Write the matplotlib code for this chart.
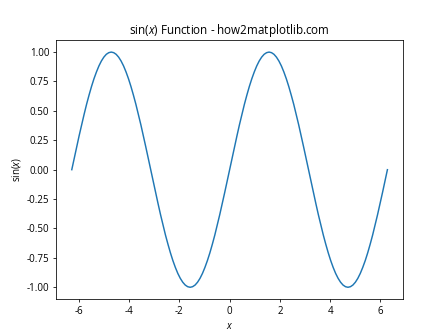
import matplotlib
matplotlib.use("Agg")
import matplotlib.pyplot as plt

plt.rcParams['font.family'] = ['Open Sans', 'DejaVu Sans']
plt.rcParams['axes.unicode_minus'] = False
plt.rcParams['mathtext.fontset'] = 'custom'
plt.rcParams['mathtext.rm'] = 'Open Sans'
plt.rcParams['mathtext.it'] = 'Open Sans:italic'

x_values = [
    -6.283, -6.185, -6.087, -5.989, -5.890, -5.792, -5.694, -5.596,
    -5.498, -5.400, -5.301, -5.203, -5.105, -5.007, -4.909, -4.811,
    -4.712, -4.614, -4.516, -4.418, -4.320, -4.221, -4.123, -4.025,
    -3.927, -3.829, -3.731, -3.632, -3.534, -3.436, -3.338, -3.240,
    -3.142, -3.043, -2.945, -2.847, -2.749, -2.651, -2.553, -2.454,
    -2.356, -2.258, -2.160, -2.062, -1.963, -1.865, -1.767, -1.669,
    -1.571, -1.473, -1.374, -1.276, -1.178, -1.080, -0.982, -0.884,
    -0.785, -0.687, -0.589, -0.491, -0.393, -0.295, -0.196, -0.098,
    0.000, 0.098, 0.196, 0.295, 0.393, 0.491, 0.589, 0.687,
    0.785, 0.884, 0.982, 1.080, 1.178, 1.276, 1.374, 1.473,
    1.571, 1.669, 1.767, 1.865, 1.963, 2.062, 2.160, 2.258,
    2.356, 2.454, 2.553, 2.651, 2.749, 2.847, 2.945, 3.043,
    3.142, 3.240, 3.338, 3.436, 3.534, 3.632, 3.731, 3.829,
    3.927, 4.025, 4.123, 4.221, 4.320, 4.418, 4.516, 4.614,
    4.712, 4.811, 4.909, 5.007, 5.105, 5.203, 5.301, 5.400,
    5.498, 5.596, 5.694, 5.792, 5.890, 5.989, 6.087, 6.185, 6.283,
]
y_values = [
    0.000, 0.098, 0.195, 0.290, 0.383, 0.471, 0.556, 0.634,
    0.707, 0.773, 0.831, 0.882, 0.924, 0.957, 0.981, 0.995,
    1.000, 0.995, 0.981, 0.957, 0.924, 0.882, 0.831, 0.773,
    0.707, 0.634, 0.556, 0.471, 0.383, 0.290, 0.195, 0.098,
    0.000, -0.098, -0.195, -0.290, -0.383, -0.471, -0.556, -0.634,
    -0.707, -0.773, -0.831, -0.882, -0.924, -0.957, -0.981, -0.995,
    -1.000, -0.995, -0.981, -0.957, -0.924, -0.882, -0.831, -0.773,
    -0.707, -0.634, -0.556, -0.471, -0.383, -0.290, -0.195, -0.098,
    0.000, 0.098, 0.195, 0.290, 0.383, 0.471, 0.556, 0.634,
    0.707, 0.773, 0.831, 0.882, 0.924, 0.957, 0.981, 0.995,
    1.000, 0.995, 0.981, 0.957, 0.924, 0.882, 0.831, 0.773,
    0.707, 0.634, 0.556, 0.471, 0.383, 0.290, 0.195, 0.098,
    0.000, -0.098, -0.195, -0.290, -0.383, -0.471, -0.556, -0.634,
    -0.707, -0.773, -0.831, -0.882, -0.924, -0.957, -0.981, -0.995,
    -1.000, -0.995, -0.981, -0.957, -0.924, -0.882, -0.831, -0.773,
    -0.707, -0.634, -0.556, -0.471, -0.383, -0.290, -0.195, -0.098, 0.000,
]

fig, ax = plt.subplots(figsize=(6.4, 4.8), dpi=70)
ax.plot(x_values, y_values, color='#1f77b4', linewidth=1.5)
ax.set_title('sin($x$) Function - how2matplotlib.com')
ax.set_xlabel('$x$')
ax.set_ylabel('sin($x$)')
fig.savefig('out.png', dpi=70)
